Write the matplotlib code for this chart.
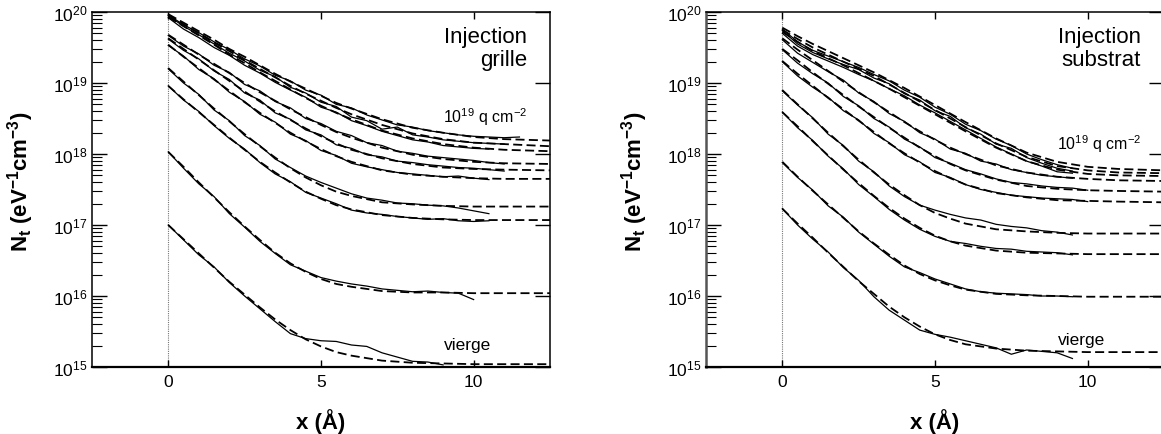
import matplotlib
matplotlib.use('Agg')
import matplotlib.pyplot as plt
from matplotlib.ticker import LogLocator, NullFormatter
import numpy as np

plt.rcParams['font.family'] = ['Liberation Sans', 'DejaVu Sans']
plt.rcParams['mathtext.fontset'] = 'custom'
plt.rcParams['mathtext.rm'] = 'Liberation Sans'
plt.rcParams['mathtext.it'] = 'Liberation Sans:italic'
plt.rcParams['mathtext.bf'] = 'Liberation Sans:bold'

# depth (Angstrom) of the fitted curves and of the measured profiles
x_fit = [0, 0.5, 1, 1.5, 2, 2.5, 3, 3.5, 4, 4.5, 5, 5.5, 6, 7, 8, 9, 10, 11, 12.5]
x_meas = [0, 0.5, 1, 1.5, 2, 2.5, 3, 3.5, 4, 4.5, 5, 5.5, 6, 6.5, 7, 7.5,
          8, 8.5, 9, 9.5, 10, 10.5, 11, 11.5]

# log10(Nt), gate injection, from virgin to 1e19 q/cm2
grille_fit = [
    [17.00, 16.80, 16.60, 16.40, 16.20, 16.02, 15.84, 15.67, 15.52, 15.39, 15.29, 15.21, 15.16, 15.09, 15.06, 15.05, 15.04, 15.04, 15.04],
    [18.03, 17.82, 17.60, 17.39, 17.18, 16.98, 16.79, 16.61, 16.46, 16.34, 16.24, 16.17, 16.13, 16.07, 16.05, 16.05, 16.04, 16.04, 16.04],
    [18.96, 18.77, 18.59, 18.41, 18.23, 18.06, 17.89, 17.74, 17.60, 17.47, 17.37, 17.28, 17.22, 17.14, 17.10, 17.08, 17.07, 17.07, 17.07],
    [19.21, 19.02, 18.83, 18.64, 18.46, 18.28, 18.11, 17.95, 17.80, 17.67, 17.56, 17.47, 17.41, 17.32, 17.29, 17.27, 17.26, 17.26, 17.26],
    [19.54, 19.37, 19.21, 19.05, 18.89, 18.73, 18.58, 18.44, 18.30, 18.18, 18.07, 17.97, 17.89, 17.77, 17.71, 17.68, 17.66, 17.65, 17.65],
    [19.63, 19.48, 19.33, 19.18, 19.03, 18.88, 18.74, 18.60, 18.48, 18.36, 18.25, 18.15, 18.06, 17.94, 17.86, 17.81, 17.79, 17.78, 17.77],
    [19.68, 19.54, 19.40, 19.27, 19.14, 19.00, 18.87, 18.75, 18.63, 18.52, 18.41, 18.31, 18.23, 18.09, 17.99, 17.93, 17.89, 17.87, 17.86],
    [19.93, 19.80, 19.67, 19.54, 19.40, 19.28, 19.15, 19.03, 18.91, 18.79, 18.68, 18.58, 18.49, 18.33, 18.22, 18.14, 18.09, 18.06, 18.04],
    [19.96, 19.83, 19.70, 19.57, 19.45, 19.32, 19.20, 19.08, 18.96, 18.85, 18.75, 18.65, 18.56, 18.41, 18.29, 18.21, 18.16, 18.14, 18.11],
    [19.97, 19.85, 19.73, 19.61, 19.48, 19.37, 19.25, 19.13, 19.02, 18.92, 18.82, 18.72, 18.64, 18.49, 18.37, 18.30, 18.24, 18.21, 18.19],
]
grille_meas = [
    [17.00, 16.79, 16.58, 16.41, 16.19, 16.00, 15.82, 15.64, 15.47, 15.40, 15.37, 15.36, 15.31, 15.29, 15.20, 15.14, 15.08, 15.07, 15.03],
    [18.03, 17.80, 17.58, 17.40, 17.16, 16.97, 16.77, 16.60, 16.44, 16.35, 16.26, 16.21, 16.17, 16.14, 16.10, 16.08, 16.06, 16.07, 16.05, 16.04, 15.95],
    [18.96, 18.76, 18.60, 18.40, 18.22, 18.07, 17.88, 17.72, 17.61, 17.46, 17.38, 17.30, 17.21, 17.17, 17.15, 17.12, 17.10, 17.08, 17.09, 17.06, 17.05, 17.06],
    [19.20, 19.00, 18.84, 18.62, 18.47, 18.26, 18.12, 17.93, 17.81, 17.69, 17.60, 17.52, 17.44, 17.38, 17.35, 17.31, 17.30, 17.28, 17.27, 17.24, 17.20, 17.16],
    [19.53, 19.38, 19.19, 19.06, 18.87, 18.74, 18.56, 18.45, 18.28, 18.19, 18.05, 17.98, 17.87, 17.82, 17.78, 17.74, 17.72, 17.70, 17.68, 17.69, 17.66, 17.64],
    [19.62, 19.46, 19.34, 19.17, 19.05, 18.86, 18.76, 18.58, 18.49, 18.34, 18.27, 18.13, 18.08, 17.99, 17.96, 17.90, 17.88, 17.85, 17.83, 17.81, 17.80, 17.78, 17.76],
    [19.67, 19.52, 19.41, 19.25, 19.15, 18.98, 18.89, 18.74, 18.65, 18.50, 18.43, 18.32, 18.26, 18.16, 18.12, 18.04, 18.01, 17.97, 17.95, 17.93, 17.91, 17.88, 17.86],
    [19.92, 19.76, 19.64, 19.50, 19.39, 19.25, 19.14, 19.01, 18.90, 18.80, 18.66, 18.59, 18.47, 18.40, 18.32, 18.26, 18.20, 18.17, 18.12, 18.10, 18.08, 18.07],
    [19.95, 19.80, 19.68, 19.55, 19.42, 19.31, 19.18, 19.09, 18.94, 18.86, 18.73, 18.67, 18.52, 18.47, 18.35, 18.38, 18.27, 18.24, 18.20, 18.18, 18.16, 18.15, 18.14],
    [19.96, 19.82, 19.71, 19.58, 19.47, 19.34, 19.24, 19.11, 19.03, 18.90, 18.83, 18.70, 18.65, 18.55, 18.48, 18.41, 18.38, 18.33, 18.30, 18.27, 18.25, 18.24, 18.23, 18.24],
]

# log10(Nt), substrate injection
substrat_fit = [
    [17.23, 17.02, 16.82, 16.61, 16.41, 16.21, 16.03, 15.85, 15.70, 15.57, 15.46, 15.38, 15.32, 15.26, 15.23, 15.22, 15.21, 15.21, 15.21],
    [17.89, 17.68, 17.48, 17.29, 17.10, 16.91, 16.74, 16.58, 16.43, 16.31, 16.22, 16.15, 16.09, 16.03, 16.01, 16.00, 15.99, 15.99, 15.99],
    [18.59, 18.39, 18.18, 17.98, 17.78, 17.59, 17.41, 17.24, 17.09, 16.96, 16.85, 16.77, 16.71, 16.64, 16.61, 16.60, 16.59, 16.59, 16.59],
    [18.90, 18.70, 18.50, 18.30, 18.11, 17.92, 17.74, 17.57, 17.42, 17.28, 17.17, 17.09, 17.02, 16.94, 16.91, 16.89, 16.88, 16.88, 16.88],
    [19.31, 19.13, 18.96, 18.79, 18.63, 18.47, 18.31, 18.15, 18.01, 17.88, 17.76, 17.66, 17.57, 17.45, 17.39, 17.35, 17.34, 17.33, 17.32],
    [19.48, 19.32, 19.15, 18.99, 18.83, 18.67, 18.52, 18.37, 18.23, 18.09, 17.97, 17.86, 17.77, 17.64, 17.55, 17.51, 17.49, 17.48, 17.47],
    [19.63, 19.47, 19.32, 19.17, 19.02, 18.87, 18.73, 18.59, 18.45, 18.32, 18.20, 18.09, 18.00, 17.84, 17.74, 17.68, 17.65, 17.63, 17.62],
    [19.72, 19.58, 19.45, 19.35, 19.25, 19.14, 19.03, 18.92, 18.80, 18.68, 18.56, 18.44, 18.32, 18.09, 17.90, 17.78, 17.72, 17.70, 17.69],
    [19.75, 19.62, 19.50, 19.40, 19.30, 19.20, 19.10, 18.98, 18.86, 18.74, 18.62, 18.50, 18.38, 18.15, 17.96, 17.83, 17.77, 17.74, 17.73],
    [19.78, 19.66, 19.55, 19.45, 19.35, 19.25, 19.15, 19.04, 18.93, 18.81, 18.69, 18.57, 18.45, 18.22, 18.02, 17.89, 17.82, 17.79, 17.77],
]
substrat_meas = [
    [17.23, 17.00, 16.80, 16.62, 16.40, 16.22, 15.99, 15.80, 15.66, 15.52, 15.46, 15.42, 15.37, 15.32, 15.27, 15.18, 15.24, 15.22, 15.20, 15.12],
    [17.88, 17.67, 17.49, 17.27, 17.11, 16.90, 16.73, 16.56, 16.41, 16.33, 16.24, 16.17, 16.10, 16.06, 16.04, 16.03, 16.02, 16.00, 16.00, 15.99],
    [18.59, 18.37, 18.19, 17.97, 17.79, 17.57, 17.40, 17.22, 17.07, 16.94, 16.84, 16.77, 16.74, 16.70, 16.67, 16.66, 16.63, 16.62, 16.61, 16.58],
    [18.89, 18.69, 18.51, 18.28, 18.12, 17.90, 17.75, 17.55, 17.40, 17.28, 17.21, 17.15, 17.10, 17.07, 17.01, 16.98, 16.96, 16.92, 16.90, 16.86],
    [19.30, 19.10, 18.94, 18.80, 18.61, 18.48, 18.29, 18.16, 17.99, 17.89, 17.74, 17.67, 17.57, 17.50, 17.46, 17.42, 17.40, 17.38, 17.37, 17.36, 17.33],
    [19.47, 19.28, 19.13, 19.00, 18.81, 18.68, 18.50, 18.38, 18.21, 18.10, 17.95, 17.87, 17.78, 17.72, 17.65, 17.60, 17.58, 17.55, 17.53, 17.52, 17.49],
    [19.61, 19.42, 19.29, 19.16, 19.04, 18.86, 18.74, 18.57, 18.46, 18.30, 18.21, 18.07, 18.01, 17.90, 17.86, 17.78, 17.74, 17.70, 17.68, 17.66],
    [19.70, 19.52, 19.40, 19.31, 19.22, 19.12, 19.03, 18.92, 18.82, 18.69, 18.58, 18.46, 18.34, 18.22, 18.10, 18.00, 17.90, 17.83, 17.75, 17.73],
    [19.74, 19.55, 19.43, 19.34, 19.26, 19.19, 19.07, 18.99, 18.85, 18.76, 18.61, 18.53, 18.37, 18.28, 18.14, 18.08, 17.95, 17.87, 17.80, 17.76],
    [19.76, 19.58, 19.46, 19.38, 19.30, 19.22, 19.12, 19.03, 18.90, 18.80, 18.66, 18.56, 18.42, 18.33, 18.21, 18.12, 18.00, 17.92, 17.85, 17.80],
]

panels = [
    ('Injection\ngrille', grille_fit, grille_meas, (9.8, 2.1e15)),
    ('Injection\nsubstrat', substrat_fit, substrat_meas, (9.8, 2.45e15)),
]
dose_y = [0.69, 0.614]


def draw_panel(ax, title, fits, meas, vierge_pos, dose_frac):
    ax.axvline(0, color='#777777', lw=0.8, ls=(0, (1, 1)), zorder=1)
    for vals in meas:
        ax.plot(x_meas[:len(vals)], 10 ** np.array(vals), color='black', lw=0.9)
    for vals in fits:
        ax.plot(x_fit, 10 ** np.array(vals), color='black', lw=1.3,
                ls=(0, (5, 2.4)))

    ax.set_yscale('log')
    ax.set_xlim(-2.5, 12.5)
    ax.set_ylim(1e15, 1e20)
    ax.set_xticks([0, 5, 10])
    ax.yaxis.set_major_locator(LogLocator(base=10, numticks=10))
    ax.yaxis.set_minor_locator(LogLocator(base=10, subs=np.arange(2, 10), numticks=10))
    ax.yaxis.set_minor_formatter(NullFormatter())
    ax.tick_params(axis='x', which='major', direction='in', top=True,
                   length=5, width=1, labelsize=12.5, pad=5)
    ax.tick_params(axis='y', which='major', direction='in', right=True,
                   length=11, width=1, labelsize=12.5, pad=3)
    ax.tick_params(axis='y', which='minor', direction='in', right=False,
                   length=7, width=0.8)
    for sp in ax.spines.values():
        sp.set_linewidth(1.1)
    ax.spines['bottom'].set_linewidth(1.6)

    ax.set_xlabel('x (Å)', fontsize=16, fontweight='bold')
    ax.xaxis.set_label_coords(0.5, -0.115)
    ax.xaxis.label.set_va('top')
    ax.set_ylabel(r'N$_\mathbf{t}$ (eV$^\mathbf{-1}$cm$^\mathbf{-3}$)',
                  fontsize=16, fontweight='bold')
    ax.yaxis.set_label_coords(-0.122, 0.525)

    ax.text(0.95, 0.962, title, transform=ax.transAxes, ha='right', va='top',
            fontsize=16, linespacing=1.15)
    ax.text(0.95, dose_frac, r'10$^{19}$ q cm$^{-2}$', transform=ax.transAxes,
            ha='right', va='baseline', fontsize=11.5)
    ax.text(vierge_pos[0], vierge_pos[1], 'vierge', ha='center', va='center',
            fontsize=12.5)


fig = plt.figure(figsize=(11.61, 4.35), dpi=100)
ax1 = fig.add_axes([0.0792, 0.154, 0.3945, 0.816])
ax2 = fig.add_axes([0.6081, 0.154, 0.3945, 0.816])

for ax, (title, fits, meas, vpos), dfrac in zip([ax1, ax2], panels, dose_y):
    draw_panel(ax, title, fits, meas, vpos, dfrac)

ax2.spines['left'].set_color('#555555')
ax2.spines['left'].set_linewidth(1.8)

fig.savefig('out.png', dpi=100)
